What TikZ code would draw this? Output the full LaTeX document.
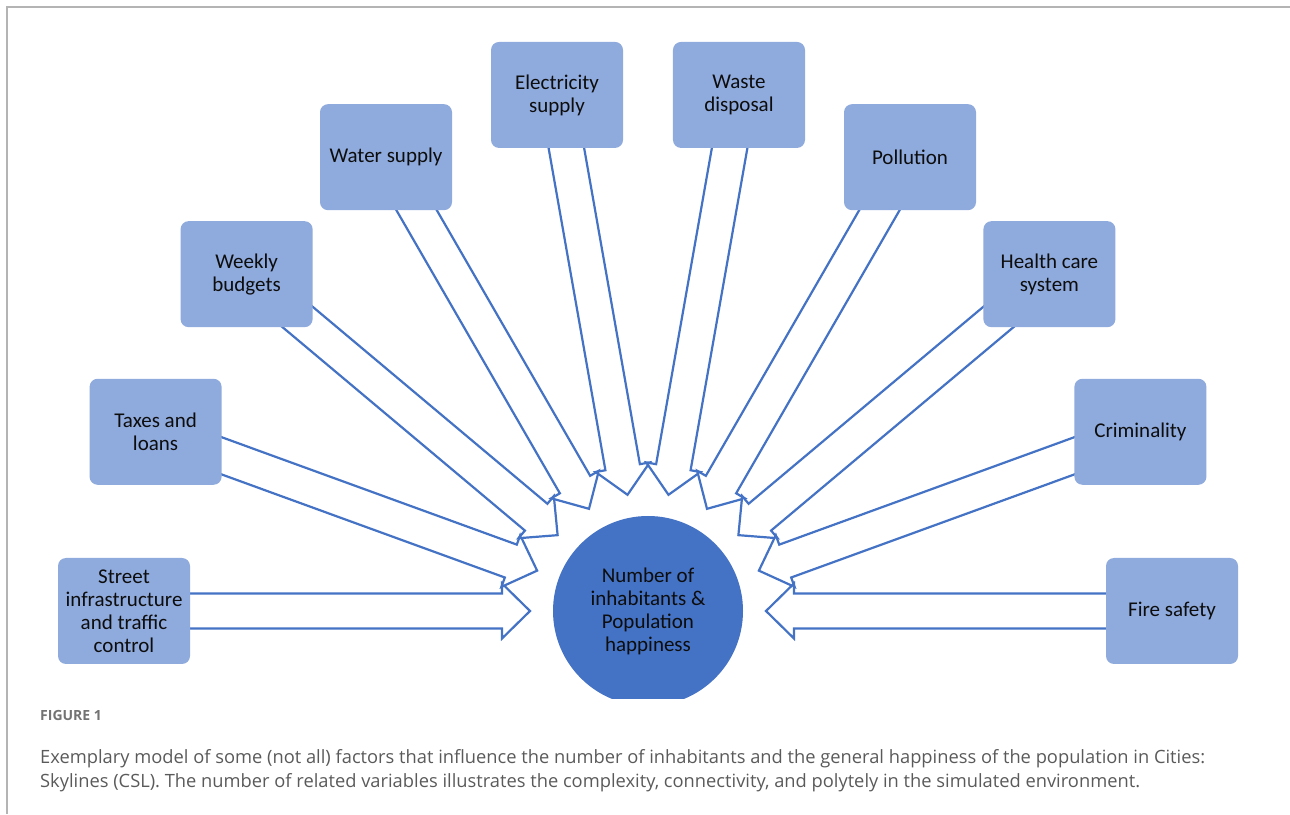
\documentclass[tikz,border=0pt]{standalone}
\usepackage{fontspec}
\setmainfont{Carlito}
\newfontfamily\captionfont{Open Sans}
\usepackage{tikz}
\usetikzlibrary{positioning, calc, backgrounds}

\definecolor{hubblue}{HTML}{4472C4}
\definecolor{boxblue}{HTML}{8FAADC}
\definecolor{framegray}{HTML}{B4B4B4}
\definecolor{captiongray}{HTML}{5A5A5A}

% hollow block arrow from a factor box towards the hub
\newcommand{\factorarrow}[1]{%
  \coordinate (#1-tip) at ($(hub.center)!118pt!(#1.center)$);
  \coordinate (#1-base) at ($(hub.center)!146pt!(#1.center)$);
  \draw[blockarrow] ($(#1.center)!17.5pt!90:(hub.center)$) -- ($(#1-base)!17.5pt!90:(hub.center)$)
    -- ($(#1-base)!27.5pt!90:(hub.center)$) -- (#1-tip) -- ($(#1-base)!27.5pt!-90:(hub.center)$)
    -- ($(#1-base)!17.5pt!-90:(hub.center)$) -- ($(#1.center)!17.5pt!-90:(hub.center)$) -- cycle;
}

\begin{document}
\begin{tikzpicture}[
x=1pt, y=1pt,
factor/.style={fill=boxblue, rounded corners=8pt, minimum width=132pt, minimum height=106pt, align=center, inner sep=2pt, text=black!95, font=\fontsize{21}{23}\selectfont},
hub/.style={circle, fill=hubblue, minimum size=190pt, inner sep=0pt, align=center, text=black!95, font=\fontsize{21}{23}\selectfont},
blockarrow/.style={draw=hubblue, fill=white, line width=2.2pt, line join=miter},
captiontext/.style={anchor=base west, inner sep=0pt, text=captiongray, font=\captionfont\fontsize{18.3}{24}\selectfont}
]
\useasboundingbox (0,0) rectangle (1290,814);

% ====== Frame ======
\draw[framegray, line width=1.5pt] (1290,807) -- (7,807) -- (7,0);

% ====== Hub (cut off at the bottom) ======
\begin{scope}
\clip (0,115) rectangle (1290,814);
\node[hub] (hub) at (648,203) {Number of\\inhabitants \&\\Population\\happiness};
\end{scope}

% ====== Factors (on a half ring round the hub) ======
\node[factor] (street) at ($(hub)+(180:524)$) {Street\\infrastructure\\and traffic\\control};
\node[factor] (taxes) at ($(hub)+(160:524)$) {Taxes and\\loans};
\node[factor] (budgets) at ($(hub)+(140:524)$) {Weekly\\budgets};
\node[factor] (water) at ($(hub)+(120:524)$) {Water supply};
\node[factor] (electricity) at ($(hub)+(100:524)$) {Electricity\\supply};
\node[factor] (waste) at ($(hub)+(80:524)$) {Waste\\disposal};
\node[factor] (pollution) at ($(hub)+(60:524)$) {Pollution};
\node[factor] (health) at ($(hub)+(40:524)$) {Health care\\system};
\node[factor] (crime) at ($(hub)+(20:524)$) {Criminality};
\node[factor] (fire) at ($(hub)+(0:524)$) {Fire safety};

% ====== Block arrows (tails hidden under the boxes) ======
\begin{scope}[on background layer]
\factorarrow{street}
\factorarrow{taxes}
\factorarrow{budgets}
\factorarrow{water}
\factorarrow{electricity}
\factorarrow{waste}
\factorarrow{pollution}
\factorarrow{health}
\factorarrow{crime}
\factorarrow{fire}
\end{scope}

% ====== Caption ======
\node[captiontext, text=captiongray!85, font=\captionfont\bfseries\fontsize{14}{16}\selectfont] (figlabel) at (40,93) {FIGURE 1};
\node[captiontext] (caption1) at (40,51) {Exemplary model of some (not all) factors that influence the number of inhabitants and the general happiness of the population in Cities:};
\node[captiontext] (caption2) at (40,27) {Skylines (CSL). The number of related variables illustrates the complexity, connectivity, and polytely in the simulated environment.};

\end{tikzpicture}
\end{document}
